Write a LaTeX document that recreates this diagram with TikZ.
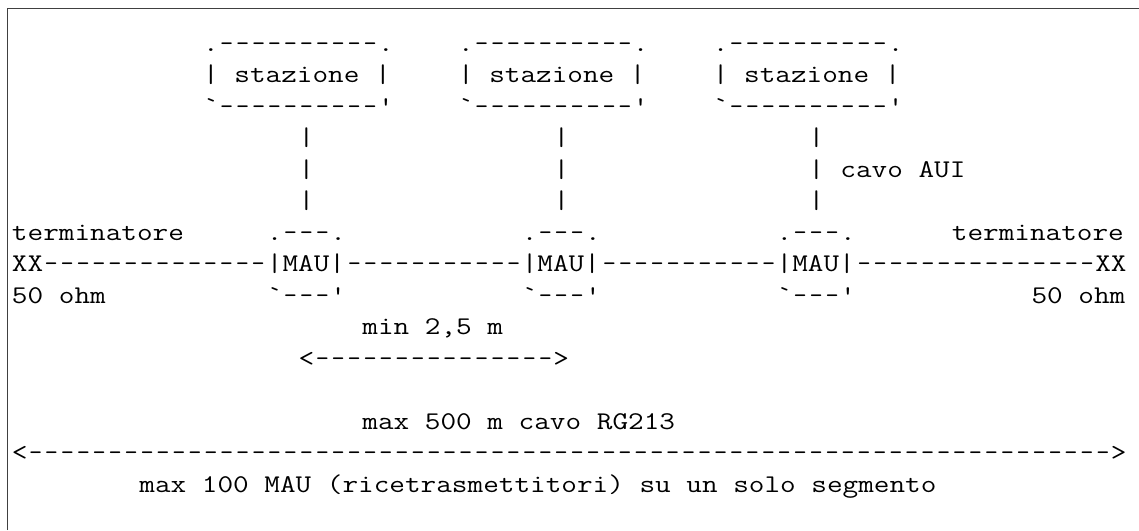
\documentclass[tikz,border=0pt]{standalone}
\newcommand\ascW{15.93}
\newcommand\ascX{12}
\newcommand\ascB{51}
\newcommand\ascH{31.5}
\newcommand\ascdash[1]{\foreach\ascK in {1,...,#1}{\makebox[13.3866pt][c]{\scalebox{0.8403}[1]{-}}}}
\tikzset{
  asc/.style={font=\ttfamily\fontsize{25.5}{31.5}\selectfont, inner sep=0pt, outer sep=0pt, anchor=base west, text=black},
  frameline/.style={line width=1.5pt, draw=black!75}
}
\newcommand\tx[4]{\node[asc] (#1) at ({\ascX+#2*\ascW},{-\ascB-#3*\ascH}) {\scalebox{1.19}[1]{#4}};}
\begin{document}
\begin{tikzpicture}[x=1pt,y=1pt]
\useasboundingbox (0,0) rectangle (1139,-530);
\draw[frameline] (7.5,-530) -- (7.5,-8.5) -- (1139,-8.5);
% stations
\foreach \i/\c in {1/12,2/28,3/44}{
  \tx{st\i}{\c}{0}{.\ascdash{10}.}
  \tx{s\i}{\c}{1}{| stazione |}
  \tx{sb\i}{\c}{2}{`\ascdash{10}'}
}
% AUI cables
\foreach \i/\c in {1/18,2/34,3/50}{
  \foreach \r in {3,4,5}{\tx{v\i\r}{\c}{\r}{|}}
}
\tx{aui}{52}{4}{cavo AUI}
% MAUs
\foreach \i/\c in {1/16,2/32,3/48}{
  \tx{mt\i}{\c}{6}{.\ascdash{3}.}
  \tx{m\i}{\c}{7}{|MAU|}
  \tx{mb\i}{\c}{8}{`\ascdash{3}'}
}
\tx{tl}{0}{6}{terminatore}
\tx{tr}{59}{6}{terminatore}
\tx{xl}{0}{7}{XX\ascdash{14}}
\tx{c12}{21}{7}{\ascdash{11}}
\tx{c23}{37}{7}{\ascdash{11}}
\tx{xr}{53}{7}{\ascdash{15}XX}
\tx{ohl}{0}{8}{50 ohm}
\tx{ohr}{64}{8}{50 ohm}
\tx{minl}{22}{9}{min 2,5 m}
\tx{mina}{18}{10}{<\ascdash{15}>}
\tx{maxl}{22}{12}{max 500 m cavo RG213}
\tx{maxa}{0}{13}{<\ascdash{68}>}
\tx{note}{8}{14}{max 100 MAU (ricetrasmettitori) su un solo segmento}
\end{tikzpicture}
\end{document}
